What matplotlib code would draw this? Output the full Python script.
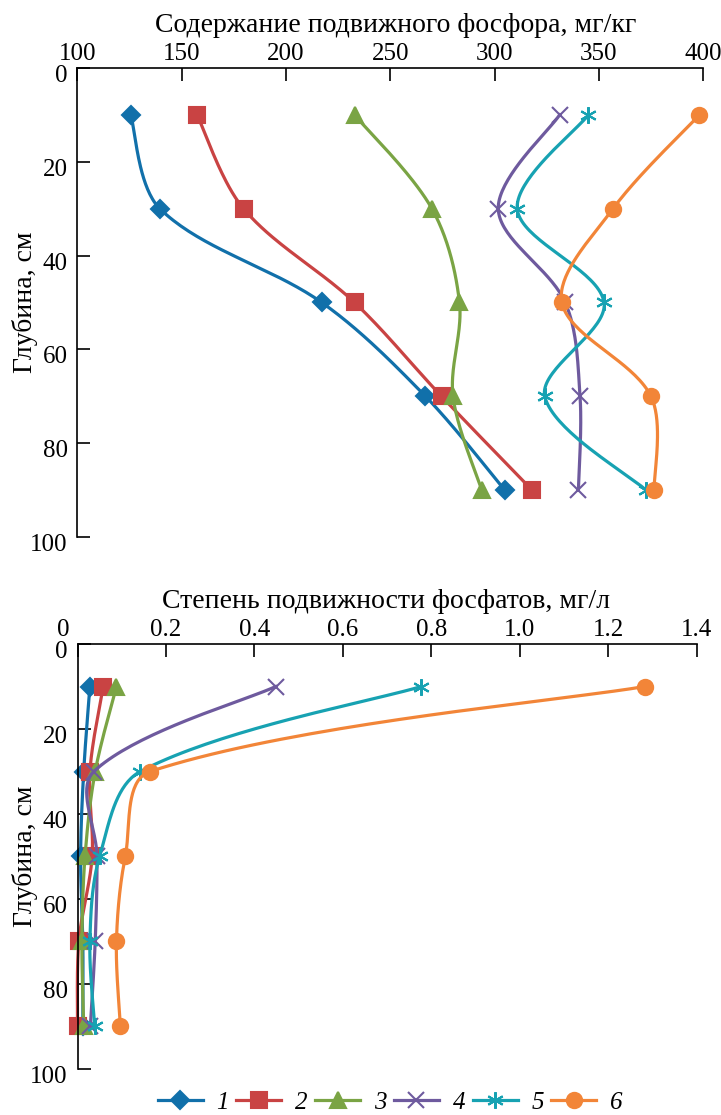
import numpy as np
import matplotlib.pyplot as plt
import matplotlib.transforms as mtransforms
from matplotlib.lines import Line2D

plt.rcParams['font.family'] = ['Liberation Serif', 'DejaVu Serif']

depth = [10, 30, 50, 70, 90]

# содержание подвижного фосфора, мг/кг
cont1 = [125.6, 139.6, 217.2, 266.9, 304.9]
cont2 = [157.4, 179.7, 232.9, 274.6, 318.0]
cont3 = [232.9, 270.0, 283.2, 280.1, 293.9]
cont4 = [331.2, 301.8, 333.9, 341.0, 340.2]
cont5 = [345.0, 310.9, 352.5, 324.1, 372.6]
cont6 = [398.2, 356.8, 332.3, 375.0, 376.5]

# степень подвижности фосфатов, мг/л
mob1 = [0.028, 0.014, 0.007, 0.012, 0.012]
mob2 = [0.058, 0.028, 0.033, 0.003, 0.000]
mob3 = [0.088, 0.040, 0.017, 0.010, 0.014]
mob4 = [0.448, 0.037, 0.044, 0.040, 0.029]
mob5 = [0.777, 0.142, 0.050, 0.028, 0.039]
mob6 = [1.282, 0.164, 0.108, 0.088, 0.097]

labels = ['1', '2', '3', '4', '5', '6']
colors = ['#1170AA', '#C94343', '#7AA444', '#6E5A9E', '#17A2B2', '#F28538']
markers = ['D', 's', '^', 'x', (6, 2, 0), 'o']
msizes = [9, 11, 11, 11, 12, 11]


def smooth(ax, x, y, n=40):
    # сглаженная линия (безье, касательные взвешены по длинам отрезков) в пикселях
    p = ax.transData.transform(np.column_stack([x, y]))
    d = np.linalg.norm(np.diff(p, axis=0), axis=1)
    out = []
    for i in range(len(p) - 1):
        a, b = p[i], p[i + 1]
        if i > 0:
            c1 = a + (b - p[i - 1]) * d[i] / (d[i - 1] + d[i]) / 3
        else:
            c1 = a + (b - a) / 6
        if i < len(p) - 2:
            c2 = b - (p[i + 2] - a) * d[i] / (d[i] + d[i + 1]) / 3
        else:
            c2 = b - (b - a) / 6
        t = np.linspace(0, 1, n)[:, None]
        seg = (1 - t) ** 3 * a + 3 * (1 - t) ** 2 * t * c1 + 3 * (1 - t) * t ** 2 * c2 + t ** 3 * b
        out.append(seg)
    out = ax.transData.inverted().transform(np.vstack(out))
    return out[:, 0], out[:, 1]


def setup(ax):
    ax.set_ylim(100, 0)
    ax.set_yticks([0, 20, 40, 60, 80, 100])
    ax.xaxis.tick_top()
    ax.xaxis.set_label_position('top')
    for s in ['right', 'bottom']:
        ax.spines[s].set_visible(False)
    for s in ['left', 'top']:
        ax.spines[s].set_linewidth(1.2)
    ax.tick_params(direction='in', length=9, width=1.2, labelsize=18)
    ax.tick_params(axis='x', pad=2)
    ax.tick_params(axis='y', pad=7)
    off = mtransforms.ScaledTranslation(0, -4 / 72, fig.dpi_scale_trans)
    for lab in ax.get_yticklabels():
        lab.set_transform(lab.get_transform() + off)
    ax.set_ylabel('Глубина, см', fontsize=20)
    ax.yaxis.label.set_va('center')


def draw(ax, series):
    for vals, c, m, ms in zip(series, colors, markers, msizes):
        sx, sy = smooth(ax, vals, depth)
        ax.plot(sx, sy, color=c, lw=2.3, clip_on=False)
        ax.plot(vals, depth, ls='none', marker=m, color=c, ms=ms, mew=1.5, clip_on=False)


fig = plt.figure(figsize=(7.21, 11.15), dpi=100)

ax1 = fig.add_axes([0.1072, 0.5184, 0.868, 0.4206])
ax1.set_xlim(100, 400)
ax1.set_xticks([100, 150, 200, 250, 300, 350, 400])
setup(ax1)
draw(ax1, [cont1, cont2, cont3, cont4, cont5, cont6])
ax1.set_xlabel('Содержание подвижного фосфора, мг/кг', fontsize=20)
ax1.xaxis.set_label_coords(0.508, 1.077)
ax1.xaxis.label.set_va('baseline')
ax1.yaxis.set_label_coords(-0.084, 0.5)

ax2 = fig.add_axes([0.1075, 0.0413, 0.859, 0.3811])
ax2.set_xlim(0, 1.4)
ax2.set_xticks([0, 0.2, 0.4, 0.6, 0.8, 1.0, 1.2, 1.4])
ax2.set_xticklabels(['0', '0.2', '0.4', '0.6', '0.8', '1.0', '1.2', '1.4'])
setup(ax2)
draw(ax2, [mob1, mob2, mob3, mob4, mob5, mob6])
ax2.set_xlabel('Степень подвижности фосфатов, мг/л', fontsize=20)
ax2.xaxis.set_label_coords(0.498, 1.085)
ax2.xaxis.label.set_va('baseline')
ax2.yaxis.set_label_coords(-0.085, 0.5)
# "0" у оси стоит левее штриха
ax2.get_xticklabels()[0].set_transform(ax2.get_xticklabels()[0].get_transform()
                                        + mtransforms.ScaledTranslation(-14 / 100, 0, fig.dpi_scale_trans))

handles = [Line2D([], [], color=c, lw=2.3, marker=m, ms=ms, mew=1.5)
           for c, m, ms in zip(colors, markers, msizes)]
leg = fig.legend(handles, labels, loc='center', bbox_to_anchor=(0.541, 0.011), ncol=6,
                 frameon=False, handlelength=1.8, handletextpad=0.55, columnspacing=0.3,
                 borderpad=0.1, prop={'size': 18, 'style': 'italic'})

fig.savefig('out.png', dpi=100)
